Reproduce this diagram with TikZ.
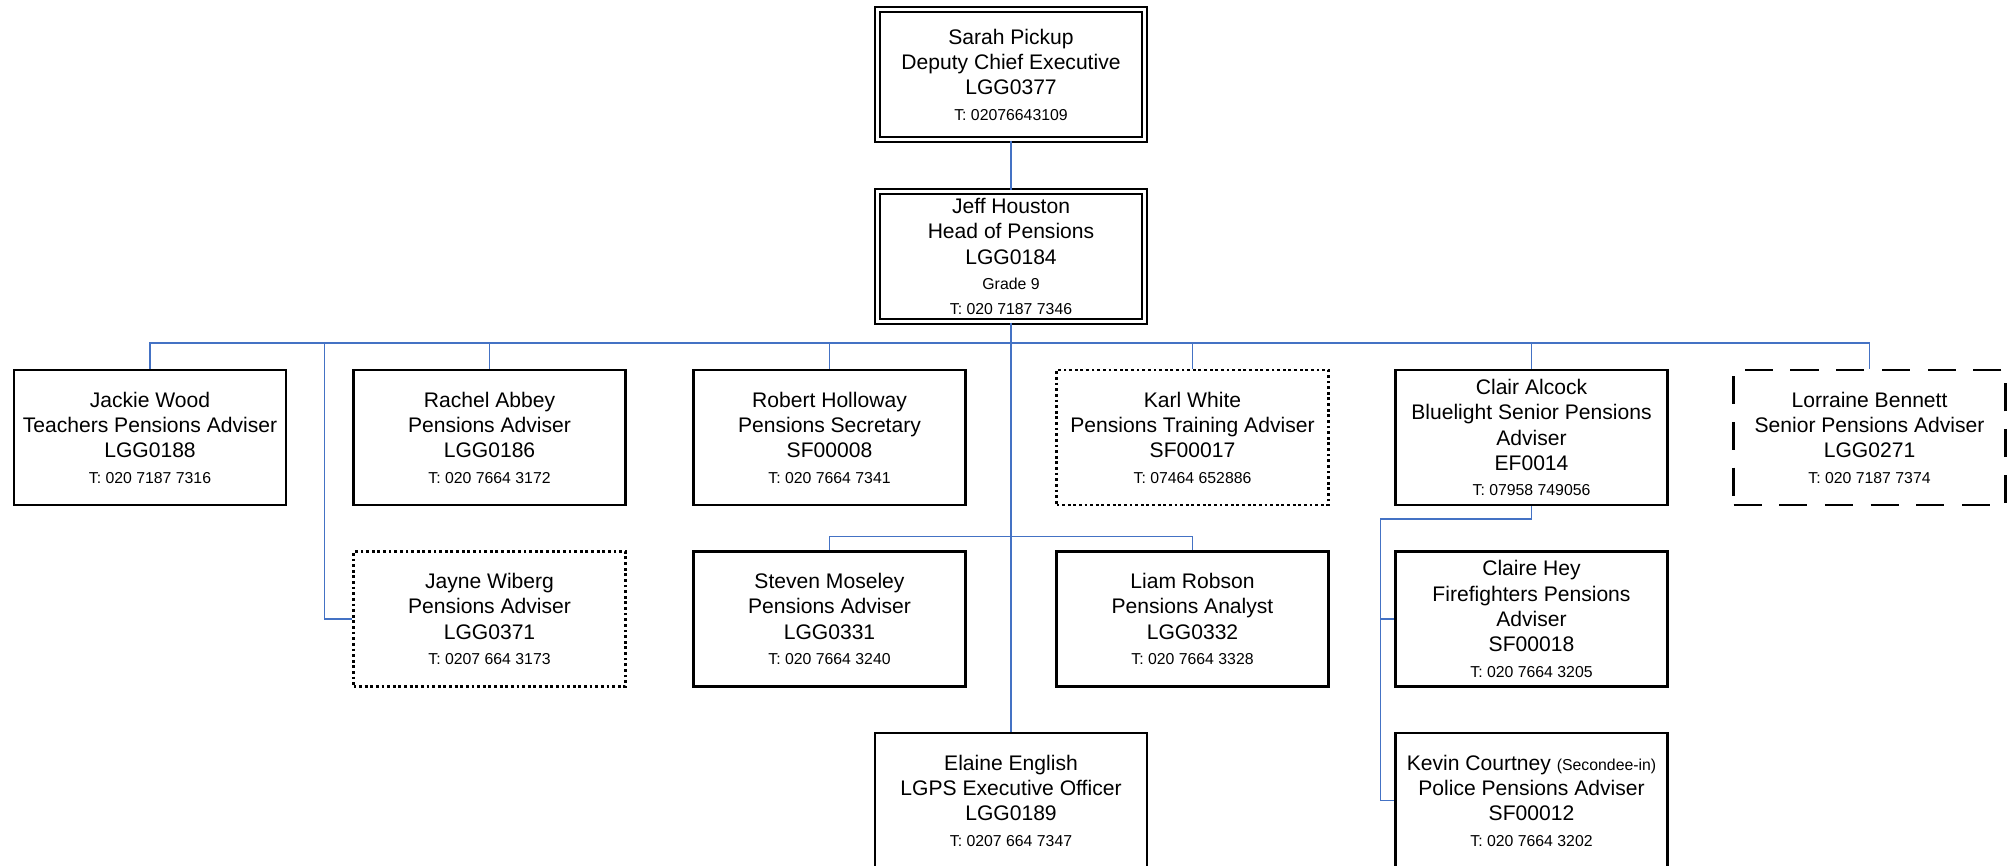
\documentclass[tikz,border=0pt]{standalone}
\usepackage{fontspec}
\setmainfont{Liberation Sans}
\definecolor{linkblue}{RGB}{68,114,196}
\newcommand{\smalltxt}{\fontsize{4.5}{7.2}\selectfont}
\newcommand{\tel}[1]{{\smalltxt T: #1}}
\begin{document}
\begin{tikzpicture}[
  box/.style={draw, line width=0.6pt, minimum width=2.72cm, minimum height=1.35cm, inner sep=0pt, align=center, font=\fontsize{6}{7.2}\selectfont},
  headbox/.style={box, double, double distance=0.7pt, minimum width=2.67cm, minimum height=1.30cm},
  dotbox/.style={box, dash pattern=on 0.8pt off 0.8pt},
  dashbox/.style={box, dash pattern=on 8pt off 5pt},
  link/.style={draw=linkblue, line width=0.5pt}]
\useasboundingbox (0,0) rectangle (20.14,-8.65);
\clip (0,0) rectangle (20.14,-8.65);
\node[headbox] (emp0) at (10.11,-0.745){Sarah Pickup\\Deputy Chief Executive\\LGG0377\\\tel{02076643109}};
\node[headbox] (emp1) at (10.11,-2.565){Jeff Houston\\Head of Pensions\\LGG0184\\{\smalltxt Grade 9}\\\tel{020 7187 7346}};
\draw[link](emp0) -- (emp1);
\coordinate (bus) at (10.11,-3.43);
\node[box] (emp2) at (1.50,-4.375){Jackie Wood\\Teachers Pensions Adviser\\LGG0188\\\tel{020 7187 7316}};
\node[box] (emp3) at (4.895,-4.375){Rachel Abbey\\Pensions Adviser\\LGG0186\\\tel{020 7664 3172}};
\node[dotbox] (emp4) at (4.895,-6.19){Jayne Wiberg\\Pensions Adviser\\LGG0371\\\tel{0207 664 3173}};
\node[box] (emp5) at (8.295,-4.375){Robert Holloway\\Pensions Secretary\\SF00008\\\tel{020 7664 7341}};
\node[dotbox] (emp6) at (11.925,-4.375){Karl White\\Pensions Training Adviser\\SF00017\\\tel{07464 652886}};
\node[box] (emp7) at (8.295,-6.19){Steven Moseley\\Pensions Adviser\\LGG0331\\\tel{020 7664 3240}};
\node[box] (emp8) at (11.925,-6.19){Liam Robson\\Pensions Analyst\\LGG0332\\\tel{020 7664 3328}};
\node[box] (emp9) at (10.11,-8.005){Elaine English\\LGPS Executive Officer\\LGG0189\\\tel{0207 664 7347}};
\node[box] (emp10) at (15.315,-4.375){Clair Alcock\\Bluelight Senior Pensions\\Adviser\\EF0014\\\tel{07958 749056}};
\node[box] (emp11) at (15.315,-6.19){Claire Hey\\Firefighters Pensions\\Adviser\\SF00018\\\tel{020 7664 3205}};
\node[box] (emp12) at (15.315,-8.005){Kevin Courtney {\smalltxt(Secondee-in)}\\Police Pensions Adviser\\SF00012\\\tel{020 7664 3202}};
\node[dashbox] (emp13) at (18.695,-4.375){Lorraine Bennett\\Senior Pensions Adviser\\LGG0271\\\tel{020 7187 7374}};
\draw[link](emp1) -- (emp9);
\draw[link](bus) -| (emp2);
\draw[link](bus) -| (emp3);
\draw[link](bus) -| ([xshift=-0.28cm]emp4.west) -- (emp4);
\draw[link](bus) -| (emp5);
\draw[link](bus) -| (emp6);
\draw[link](bus) -| (emp10);
\draw[link](bus) -| (emp13);
\draw[link](emp7.north) -- ++(0,0.14) -| (emp8);
\draw[link](emp10.south) -- ++(0,-0.13) -| ([xshift=-0.14cm]emp11.west) -- (emp11);
\draw[link](emp10.south) -- ++(0,-0.13) -| ([xshift=-0.14cm]emp12.west) -- (emp12);
\end{tikzpicture}
\end{document}
